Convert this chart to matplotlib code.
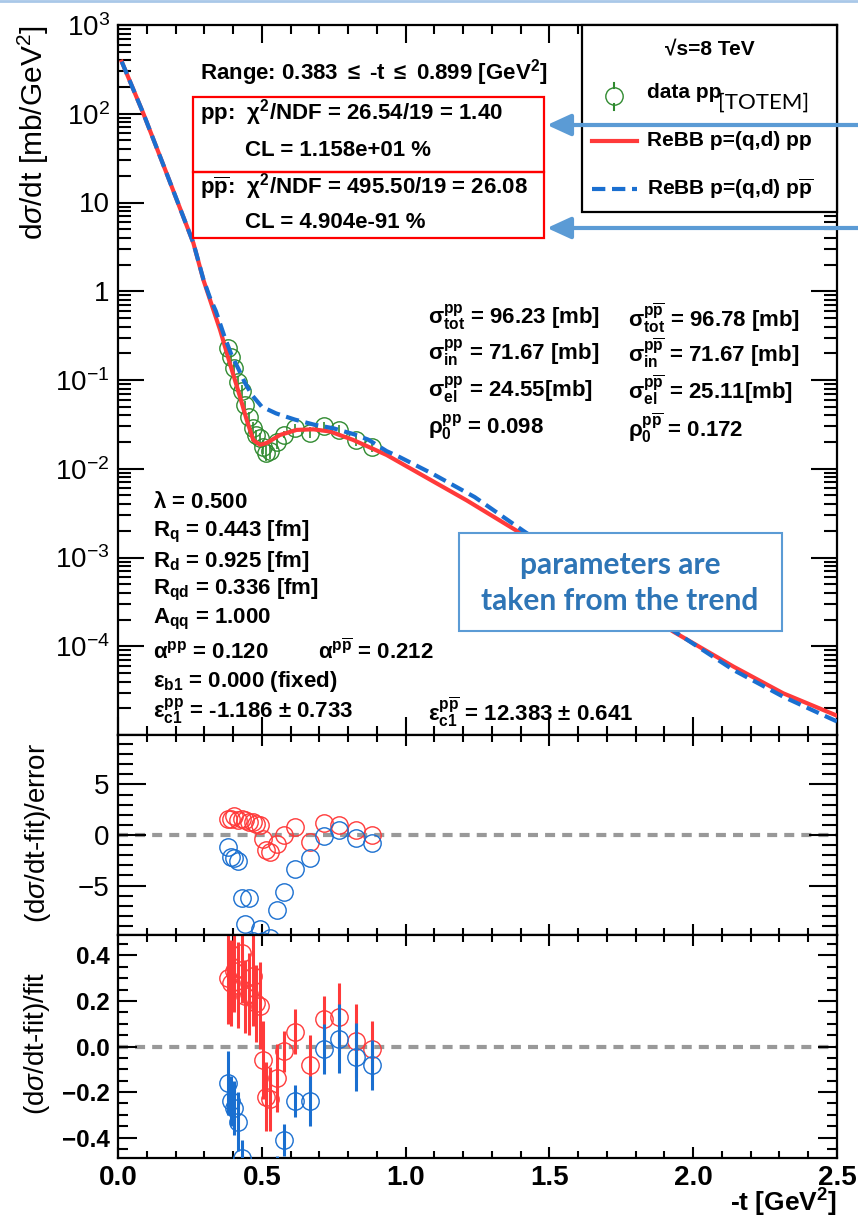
import numpy as np
import matplotlib
matplotlib.use('Agg')
import matplotlib.pyplot as plt
from matplotlib.ticker import MultipleLocator, LogLocator, NullFormatter
from matplotlib.lines import Line2D
from matplotlib.patches import Rectangle, FancyArrowPatch

plt.rcParams['font.family'] = ['Liberation Sans', 'DejaVu Sans']
plt.rcParams['mathtext.fontset'] = 'custom'
plt.rcParams['mathtext.rm'] = 'Liberation Sans'
plt.rcParams['mathtext.bf'] = 'Liberation Sans:bold'
plt.rcParams['mathtext.it'] = 'Liberation Sans:italic'
plt.rcParams['mathtext.sf'] = 'Liberation Sans'

# TOTEM 8 TeV data points
t_data = [0.383, 0.392, 0.405, 0.418, 0.430, 0.442, 0.455, 0.468, 0.481, 0.493, 0.503,
          0.515, 0.530, 0.553, 0.577, 0.616, 0.666, 0.715, 0.769, 0.828, 0.883]
dsdt_data = [0.230, 0.183, 0.138, 0.096, 0.075, 0.052, 0.038, 0.029, 0.024, 0.022, 0.0178,
             0.0150, 0.0157, 0.0200, 0.0243, 0.0290, 0.0256, 0.0305, 0.0276, 0.0212, 0.0176]
dsdt_err = [0.036, 0.027, 0.019, 0.014, 0.012, 0.0066, 0.0054, 0.0048, 0.0034, 0.0036, 0.0032,
            0.0029, 0.0029, 0.0034, 0.0022, 0.0027, 0.0036, 0.0027, 0.0036, 0.0033, 0.0020]

# ReBB model curves
t_fit_pp = [0.013, 0.088, 0.169, 0.262, 0.297, 0.320, 0.355, 0.389, 0.424, 0.4475, 0.4705,
            0.494, 0.517, 0.563, 0.621, 0.679, 0.737, 0.818, 0.934, 1.096, 1.2125, 1.392,
            1.931, 2.14, 2.313, 2.5]
dsdt_fit_pp = [386, 101, 21.3, 3.5, 1.34, 0.80, 0.366, 0.154, 0.065, 0.0355, 0.021,
               0.0186, 0.0195, 0.024, 0.0274, 0.0278, 0.0263, 0.0211, 0.0143, 0.0072, 0.0044, 0.00195,
               1.46e-4, 5.9e-5, 2.95e-5, 1.65e-5]
t_fit_ppbar = [0.013, 0.088, 0.169, 0.262, 0.297, 0.320, 0.340, 0.370, 0.395, 0.418, 0.440,
               0.465, 0.500, 0.550, 0.615, 0.680, 0.750, 0.820, 0.870, 0.934, 0.980, 1.096,
               1.240, 1.409, 1.943, 2.14, 2.313, 2.5]
dsdt_fit_ppbar = [386, 101, 21.3, 3.5, 1.36, 0.84, 0.60, 0.31, 0.19, 0.135, 0.095,
                  0.068, 0.050, 0.042, 0.0358, 0.0315, 0.0285, 0.0245, 0.0213, 0.0158, 0.0135, 0.0087,
                  0.0048, 0.0020, 1.41e-4, 5.4e-5, 2.7e-5, 1.42e-5]

# residuals (data-fit)/error
pull_pp = [1.55, 1.55, 1.85, 1.45, 1.6, 1.5, 1.3, 1.3, 1.1, 0.95, -0.35,
           -1.45, -1.65, -0.85, 0.0, 0.75, -0.65, 1.2, 0.98, 0.5, 0.0]
pull_ppbar = [-1.14, -2.2, -2.3, -2.6, -6.2, -8.8, -6.2, -10.5, -11.0, -9.3, -10.5,
              -11.0, -10.2, -7.4, -5.65, -3.4, -2.3, -0.1, 0.45, -0.33, -0.82]
# residuals (data-fit)/fit
rel_pp = [0.30, 0.28, 0.33, 0.27, 0.41, 0.22, 0.23, 0.31, 0.19, 0.18, -0.06,
          -0.22, -0.23, -0.14, -0.02, 0.065, -0.08, 0.12, 0.13, 0.025, -0.01]
rel_pp_err = [0.20, 0.19, 0.18, 0.19, 0.22, 0.16, 0.18, 0.22, 0.17, 0.19, 0.17,
              0.15, 0.14, 0.15, 0.09, 0.10, 0.13, 0.10, 0.15, 0.16, 0.12]
rel_ppbar = [-0.16, -0.24, -0.27, -0.33, -0.49, -0.55, -0.60, -0.62, -0.65, -0.68, -0.66,
             -0.64, -0.62, -0.55, -0.41, -0.24, -0.24, -0.01, 0.035, -0.045, -0.08]
rel_ppbar_err = [0.14, 0.11, 0.12, 0.13, 0.08, 0.06, 0.07, 0.06, 0.06, 0.07, 0.06,
                 0.06, 0.06, 0.07, 0.07, 0.07, 0.11, 0.11, 0.15, 0.15, 0.11]

red = '#ff3a3a'
blue = '#1a6fd0'
green = '#2f8a2f'
slide_blue = '#5b9bd5'
MS = 12.5

W, H = 858, 1218
fig = plt.figure(figsize=(W / 100, H / 100), dpi=100)


def px_box(x0, y0, x1, y1):
    return [x0 / W, 1 - y1 / H, (x1 - x0) / W, (y1 - y0) / H]


def ftext(x, y, s, **kw):
    kw.setdefault('fontsize', 16)
    kw.setdefault('fontweight', 'bold')
    kw.setdefault('va', 'center')
    return fig.text(x / W, 1 - y / H, s, **kw)


ax = fig.add_axes(px_box(118, 25, 837, 735))
ax_e = fig.add_axes(px_box(118, 735, 837, 935))
ax_f = fig.add_axes(px_box(118, 935, 837, 1158))

for a in (ax, ax_e, ax_f):
    a.set_xlim(0, 2.5)
    a.xaxis.set_major_locator(MultipleLocator(0.5))
    a.xaxis.set_minor_locator(MultipleLocator(0.1))
    a.tick_params(which='both', direction='in', top=True, right=True, width=1.5)
    for s in a.spines.values():
        s.set_linewidth(1.6)

# ---- main panel
ax.set_yscale('log')
ax.set_ylim(1e-5, 1e3)
ax.errorbar(t_data, dsdt_data, yerr=dsdt_err, fmt='o', ms=MS, mfc='none', mec=green,
            mew=1.0, ecolor=green, elinewidth=1.2, capsize=0, zorder=2)
ax.plot(t_fit_pp, dsdt_fit_pp, color=red, lw=3, zorder=3)
ax.plot(t_fit_ppbar, dsdt_fit_ppbar, color=blue, lw=3, dashes=(3.2, 1.6), zorder=4)
ax.set_yticks([10.0 ** k for k in range(-5, 4)])
ax.set_yticklabels(['', r'$10^{-4}$', r'$10^{-3}$', r'$10^{-2}$', r'$10^{-1}$', '1', '10',
                    r'$10^{2}$', r'$10^{3}$'], fontsize=20)
ax.yaxis.set_minor_locator(LogLocator(base=10, subs=np.arange(2, 10), numticks=100))
ax.yaxis.set_minor_formatter(NullFormatter())
ax.tick_params(axis='y', which='major', length=19, pad=6)
ax.tick_params(axis='y', which='minor', length=9.5)
ax.tick_params(axis='x', which='major', length=13)
ax.tick_params(axis='x', which='minor', length=6.5)
ax.tick_params(labelbottom=False)

# ---- (data-fit)/error
ax_e.set_ylim(-9.9, 9.9)
ax_e.axhline(0, color='#999999', lw=3, dashes=(2.4, 1.7), zorder=1)
ax_e.plot(t_data, pull_pp, 'o', ms=MS, mfc='none', mec=red, mew=1.0, zorder=2)
ax_e.plot(t_data, pull_ppbar, 'o', ms=MS, mfc='none', mec=blue, mew=1.0, zorder=3)
ax_e.set_yticks([-5, 0, 5])
ax_e.set_yticklabels(['\u22125', '0', '5'], fontsize=20)
ax_e.yaxis.set_minor_locator(MultipleLocator(1))
ax_e.tick_params(axis='y', which='major', length=20, pad=6)
ax_e.tick_params(axis='y', which='minor', length=11)
ax_e.tick_params(axis='x', which='major', length=8)
ax_e.tick_params(axis='x', which='minor', length=5)
ax_e.tick_params(labelbottom=False)

# ---- (data-fit)/fit
ax_f.set_ylim(-0.49, 0.49)
ax_f.axhline(0, color='#999999', lw=3, dashes=(2.4, 1.7), zorder=1)
ax_f.errorbar(t_data, rel_pp, yerr=rel_pp_err, fmt='o', ms=MS, mfc='none', mec=red,
              mew=1.0, ecolor=red, elinewidth=2.2, capsize=0, zorder=2)
ax_f.errorbar(t_data, rel_ppbar, yerr=rel_ppbar_err, fmt='o', ms=MS, mfc='none', mec=blue,
              mew=1.0, ecolor=blue, elinewidth=2.2, capsize=0, zorder=3)
ax_f.set_yticks([-0.4, -0.2, 0.0, 0.2, 0.4])
ax_f.set_yticklabels(['\u22120.4', '\u22120.2', '0.0', '0.2', '0.4'], fontsize=17.5,
                     fontweight='bold')
ax_f.yaxis.set_minor_locator(MultipleLocator(0.05))
ax_f.tick_params(axis='y', which='major', length=14, pad=6)
ax_f.tick_params(axis='y', which='minor', length=7)
ax_f.tick_params(axis='x', which='major', length=8, pad=5)
ax_f.tick_params(axis='x', which='minor', length=5)
ax_f.set_xticks([0.0, 0.5, 1.0, 1.5, 2.0, 2.5])
ax_f.set_xticklabels(['0.0', '0.5', '1.0', '1.5', '2.0', '2.5'], fontsize=20,
                     fontweight='bold')

# axis titles
ftext(33, 25, r'd$\sigma$/dt [mb/GeV$^{2}$]', rotation=90, fontsize=21.5,
      fontweight='normal', ha='center', va='top')
ftext(38, 833, r'(d$\sigma$/dt-fit)/error', rotation=90, fontsize=20,
      fontweight='normal', ha='center')
ftext(37, 1043, r'(d$\sigma$/dt-fit)/fit', rotation=90, fontsize=20,
      fontweight='normal', ha='center')
ftext(837, 1203, r'-t [GeV$^\mathbf{2}$]', fontsize=19, ha='right')

# top slide rule
fig.add_artist(Line2D([0, 1], [1 - 1 / H, 1 - 1 / H], color='#a9c8e8', lw=2,
                      transform=fig.transFigure))

# chi2 boxes
for y0, y1 in ((97, 172), (172, 238)):
    fig.add_artist(Rectangle((193 / W, 1 - y1 / H), (544 - 193) / W, (y1 - y0) / H,
                             transform=fig.transFigure, fill=False, edgecolor='#ff0000',
                             lw=1.6, zorder=5))
ftext(200, 73, r'Range: 0.383 $\mathbf{\leq}$ -t $\mathbf{\leq}$ 0.899 [GeV$^\mathbf{2}$]')
ftext(200, 113, r'pp:  $\mathbf{\chi^{2}}$/NDF = 26.54/19 = 1.40')
ftext(245, 150, 'CL = 1.158e+01 %')
ftext(200, 187, r'$\mathbf{p\overline{p}}$:  $\mathbf{\chi^{2}}$/NDF = 495.50/19 = 26.08')
ftext(245, 222, 'CL = 4.904e-91 %')

# cross sections
col1 = [r'$\mathbf{\sigma^{pp}_{tot}}$ = 96.23 [mb]',
        r'$\mathbf{\sigma^{pp}_{in}}$ = 71.67 [mb]',
        r'$\mathbf{\sigma^{pp}_{el}}$ = 24.55[mb]',
        r'$\mathbf{\rho^{pp}_{0}}$ = 0.098']
col2 = [r'$\mathbf{\sigma^{p\overline{p}}_{tot}}$ = 96.78 [mb]',
        r'$\mathbf{\sigma^{p\overline{p}}_{in}}$ = 71.67 [mb]',
        r'$\mathbf{\sigma^{p\overline{p}}_{el}}$ = 25.11[mb]',
        r'$\mathbf{\rho^{p\overline{p}}_{0}}$ = 0.172']
for y, s1, s2 in zip((318, 353, 390, 428), col1, col2):
    ftext(428, y, s1)
    ftext(628, y, s2)

# model parameters
params = [r'$\mathbf{\lambda}$ = 0.500',
          r'R$_\mathbf{q}$ = 0.443 [fm]',
          r'R$_\mathbf{d}$ = 0.925 [fm]',
          r'R$_\mathbf{qd}$ = 0.336 [fm]',
          r'A$_\mathbf{qq}$ = 1.000',
          r'$\mathbf{\alpha^{pp}}$ = 0.120',
          r'$\mathbf{\epsilon_{b1}}$ = 0.000 (fixed)',
          r'$\mathbf{\epsilon^{pp}_{c1}}$ = -1.186 $\mathbf{\pm}$ 0.733']
for y, s in zip((502, 532, 561, 590, 619, 652, 682, 712), params):
    ftext(153, y, s)
ftext(318, 652, r'$\mathbf{\alpha^{p\overline{p}}}$ = 0.212')
ftext(428, 712, r'$\mathbf{\epsilon^{p\overline{p}}_{c1}}$ = 12.383 $\mathbf{\pm}$ 0.641')

# legend
fig.add_artist(Rectangle((582 / W, 1 - 212 / H), (837 - 582) / W, (212 - 25) / H,
                         transform=fig.transFigure, facecolor='white', edgecolor='black',
                         lw=1.6, zorder=5))
ftext(710, 50, '\u221as=8 TeV', ha='center', fontsize=15, zorder=6)
fig.add_artist(Line2D([614 / W], [1 - 96 / H], marker='o', ms=12.5, mfc='none', mec=green,
                      mew=1.0, transform=fig.transFigure, zorder=6))
for ya, yb in ((83, 88), (104, 110)):
    fig.add_artist(Line2D([614 / W, 614 / W], [1 - ya / H, 1 - yb / H], color=green, lw=1.5,
                          transform=fig.transFigure, zorder=6))
ftext(647, 93, 'data pp', fontsize=15, zorder=6)
ftext(718, 103, '[TOTEM]', fontsize=16, fontweight='normal', family='Lato', zorder=6)
fig.add_artist(Line2D([592 / W, 637 / W], [1 - 141 / H] * 2, color=red, lw=3,
                      transform=fig.transFigure, zorder=6))
ftext(647, 141, 'ReBB p=(q,d) pp', fontsize=15, zorder=6)
fig.add_artist(Line2D([592 / W, 637 / W], [1 - 189 / H] * 2, color=blue, lw=3,
                      dashes=(3.2, 1.6), transform=fig.transFigure, zorder=6))
ftext(647, 189, r'ReBB p=(q,d) $\mathbf{p\overline{p}}$', fontsize=15, zorder=6)

# slide annotations
for y in (125, 228):
    fig.add_artist(FancyArrowPatch((858 / W, 1 - y / H), (547 / W, 1 - y / H),
                                   transform=fig.transFigure, color=slide_blue, lw=3,
                                   arrowstyle='-|>,head_length=0.72,head_width=0.33',
                                   mutation_scale=20, shrinkA=0, shrinkB=0, zorder=6))
fig.add_artist(Rectangle((459 / W, 1 - 631 / H), (782 - 459) / W, (631 - 533) / H,
                         transform=fig.transFigure, facecolor='white', edgecolor=slide_blue,
                         lw=1.5, zorder=5))
ftext(620, 565, 'parameters are', ha='center', fontsize=21.5, family='Lato',
      color='#2e75b6', zorder=6)
ftext(620, 601, 'taken from the trend', ha='center', fontsize=21.5, family='Lato',
      color='#2e75b6', zorder=6)

fig.savefig('out.png', dpi=100, facecolor='white')
